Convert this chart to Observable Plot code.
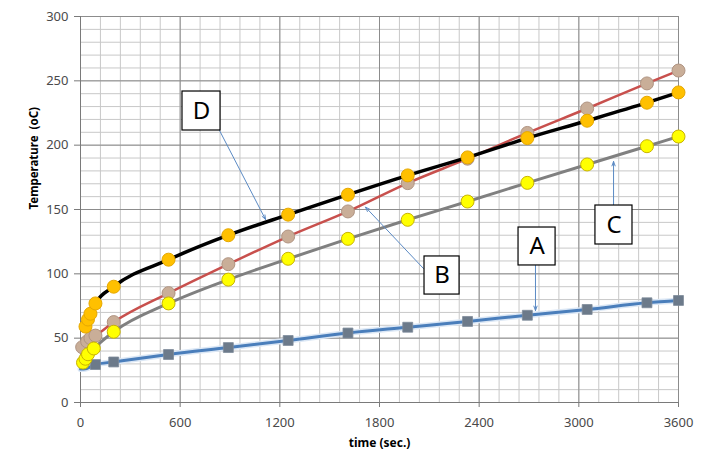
<!DOCTYPE html>
<html>
<head>
<meta charset="utf-8">
<script src="https://cdn.jsdelivr.net/npm/d3@7"></script>
<script src="https://cdn.jsdelivr.net/npm/@observablehq/plot@0.6"></script>
<style>
  html, body { margin: 0; padding: 0; background: #fff; }
  #chart svg { display: block; }
</style>
</head>
<body>
<div id="chart"></div>
<script>
// ---- data ----
const timesA = [0, 20, 90, 200, 530, 890, 1250, 1610, 1970, 2330, 2690, 3050, 3410, 3600];
const seriesA = [26, 26, 29.5, 31.5, 37.3, 42.7, 48.2, 54, 58.5, 63, 67.8, 72.3, 77.5, 79.3];

const timesB = [10, 40, 60, 90, 200, 530, 890, 1250, 1610, 1970, 2330, 2690, 3050, 3410, 3600];
const seriesB = [43, 47.5, 50, 52, 62.5, 85, 107.5, 129, 148.5, 170.5, 189.5, 209.5, 228.5, 248, 258];

const timesC = [15, 30, 45, 80, 200, 530, 890, 1250, 1610, 1970, 2330, 2690, 3050, 3410, 3600];
const seriesC = [31, 34, 37.5, 42, 55, 77, 95.5, 111.7, 127.2, 142, 156.2, 170.7, 185, 199.2, 206.7];

const timesD = [30, 45, 60, 90, 200, 530, 890, 1250, 1610, 1970, 2330, 2690, 3050, 3410, 3600];
const seriesD = [59, 64.5, 69, 77, 90, 111, 130, 146, 161.5, 176.5, 190.5, 205.5, 219, 233, 241];

const xTicks = [0, 600, 1200, 1800, 2400, 3000, 3600];
const yTicks = [0, 50, 100, 150, 200, 250, 300];

// annotation labels: box corners and arrow start/tip, in data units
const annLabels = ["D", "B", "C", "A"];
const annBoxX1 = [614, 2071, 3100, 2637];
const annBoxX2 = [843, 2282, 3323, 2860];
const annBoxY1 = [211.4, 83.9, 122.8, 106.5];
const annBoxY2 = [241.7, 113.5, 153.1, 136];
const annFromX = [837, 2065, 3209, 2739];
const annFromY = [211.4, 104.1, 153.1, 106.5];
const annToX = [1114, 1716, 3209, 2739];
const annToY = [142.2, 151.8, 187.3, 71.5];

// ---- build tables ----
const mk = (t, v) => t.map((x, i) => ({t: x, v: v[i]}));
const A = mk(timesA, seriesA);
const B = mk(timesB, seriesB);
const C = mk(timesC, seriesC);
const D = mk(timesD, seriesD);
const ann = annLabels.map((l, i) => ({
  label: l, x1: annBoxX1[i], x2: annBoxX2[i], y1: annBoxY1[i], y2: annBoxY2[i],
  fx: annFromX[i], fy: annFromY[i], tx: annToX[i], ty: annToY[i]
}));

const minorX = d3.range(0, 3601, 120);
const minorY = d3.range(0, 301, 10);

const curve = "monotone-x";
const fmt = d => String(d);

const chart = Plot.plot({
  width: 708,
  height: 473,
  marginLeft: 80,
  marginRight: 30,
  marginTop: 16,
  marginBottom: 71,
  style: {fontFamily: "'Noto Sans', 'DejaVu Sans', sans-serif", fontSize: "13px", color: "#4a4a4a", background: "#fff"},
  x: {domain: [0, 3600], label: null},
  y: {domain: [0, 300], label: null},
  marks: [
    Plot.ruleX(minorX, {stroke: "#c8c8c8", strokeWidth: 1}),
    Plot.ruleY(minorY, {stroke: "#c8c8c8", strokeWidth: 1}),
    Plot.ruleX(xTicks, {stroke: "#8c8c8c", strokeWidth: 1}),
    Plot.ruleY(yTicks, {stroke: "#8c8c8c", strokeWidth: 1}),
    Plot.ruleY([0], {stroke: "#7a7a7a", strokeWidth: 1}),
    Plot.ruleX([0], {stroke: "#7a7a7a", strokeWidth: 1}),
    Plot.axisX({ticks: xTicks, tickFormat: fmt, tickSize: 5, tickPadding: 10, stroke: "#7a7a7a", fontSize: 13, label: null}),
    Plot.axisY({ticks: yTicks, tickFormat: fmt, tickSize: 6, tickPadding: 6, stroke: "#7a7a7a", fontSize: 13, label: null}),
    // series A
    Plot.line(A, {x: "t", y: "v", curve, stroke: "#dbe7f5", strokeWidth: 6}),
    Plot.line(A, {x: "t", y: "v", curve, stroke: "#4a7ebb", strokeWidth: 3}),
    Plot.dot(A.slice(2), {x: "t", y: "v", symbol: "square", r: 5.6, fill: "#6c7a8a", stroke: "#7f8c9a", strokeWidth: 0.8}),
    // series B
    Plot.line(B, {x: "t", y: "v", curve, stroke: "#c8504d", strokeWidth: 2.5}),
    Plot.dot(B, {x: "t", y: "v", r: 6.5, fill: "#c9ae98", stroke: "#b09482", strokeWidth: 1}),
    // series C
    Plot.line(C, {x: "t", y: "v", curve, stroke: "#808080", strokeWidth: 3}),
    Plot.dot(C, {x: "t", y: "v", r: 6.5, fill: "#ffff00", stroke: "#c9b300", strokeWidth: 1}),
    // series D
    Plot.line(D, {x: "t", y: "v", curve, stroke: "#000000", strokeWidth: 3.5}),
    Plot.dot(D, {x: "t", y: "v", r: 6.5, fill: "#ffc000", stroke: "#e6a800", strokeWidth: 1}),
    // annotations
    Plot.arrow(ann, {x1: "fx", y1: "fy", x2: "tx", y2: "ty", stroke: "#5b8ac4", strokeWidth: 1, headLength: 7, headAngle: 40}),
    Plot.rect(ann, {x1: "x1", x2: "x2", y1: "y1", y2: "y2", fill: "#fff", stroke: "#000", strokeWidth: 1.2}),
    Plot.text(ann, {x: d => (d.x1 + d.x2) / 2, y: d => (d.y1 + d.y2) / 2, text: "label", fontSize: 24, fill: "#000", fontFamily: "'Noto Sans', sans-serif"}),
    // axis titles
    Plot.text(["time (sec.)"], {frameAnchor: "bottom", dy: 44, text: d => d, fontWeight: "bold", fontSize: 12, fill: "#000"}),
    Plot.text(["Temperature  (oC)"], {frameAnchor: "left", dx: -46, rotate: -90, text: d => d, fontWeight: "bold", fontSize: 11.5, fill: "#000"})
  ]
});
document.getElementById("chart").appendChild(chart);
</script>
</body>
</html>
